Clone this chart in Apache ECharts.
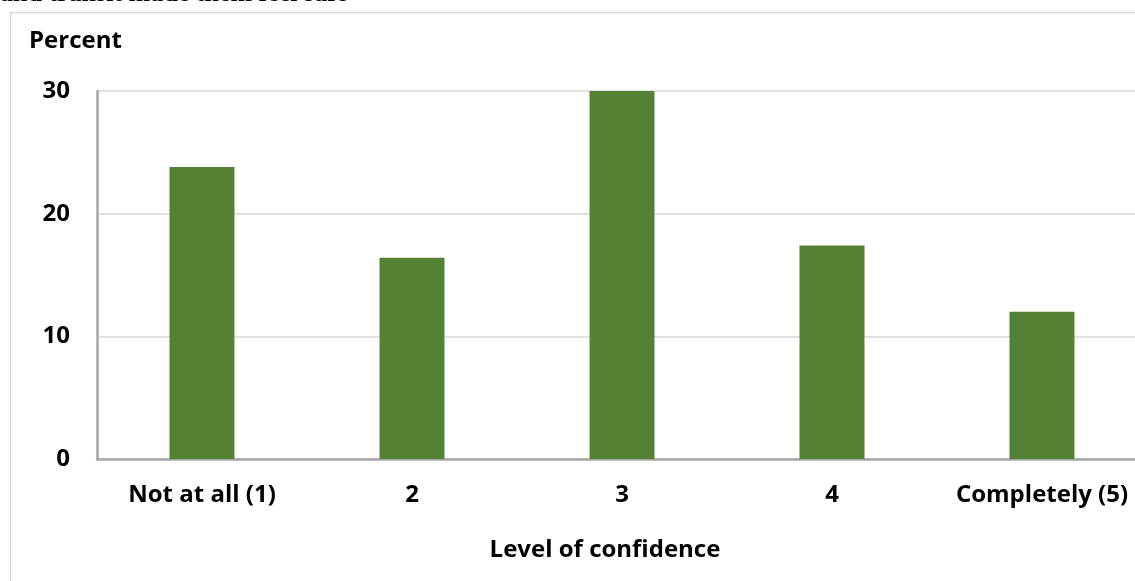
<!DOCTYPE html>
<html>
<head>
<meta charset="utf-8">
<script src="https://cdn.jsdelivr.net/npm/echarts@6/dist/echarts.min.js"></script>
<style>html,body{margin:0;padding:0;background:#fff}#c{width:1135px;height:581px}</style>
</head>
<body>
<div id="c"></div>
<script>
var categories = ['Not at all (1)', '2', '3', '4', 'Completely (5)'];
var percentValues = [23.8, 16.4, 30.0, 17.4, 12.0];
var yTicks = [0, 10, 20, 30];
var titleText = 'and transit made them feel safe';
var yAxisTitle = 'Percent';
var xAxisTitle = 'Level of confidence';

var font = '"Open Sans", "Noto Sans", sans-serif';
var chart = echarts.init(document.getElementById('c'));
chart.setOption({
  backgroundColor: '#fff',
  animation: false,
  grid: { left: 97, top: 91, width: 1050, height: 368, containLabel: false, outerBoundsMode: 'none' },
  xAxis: {
    type: 'category',
    data: categories,
    axisTick: { show: false },
    axisLine: { lineStyle: { color: '#a6a6a6', width: 2.5 } },
    axisLabel: { color: '#000', fontFamily: font, fontWeight: 'bold', fontSize: 24, margin: 24, interval: 0, hideOverlap: false }
  },
  yAxis: {
    type: 'value',
    min: yTicks[0], max: yTicks[yTicks.length - 1], interval: 10,
    axisLine: { show: true, lineStyle: { color: '#a6a6a6', width: 2.5 } },
    axisTick: { show: false },
    splitLine: { lineStyle: { color: '#d9d9d9', width: 1.5 } },
    axisLabel: { color: '#000', fontFamily: font, fontWeight: 'bold', fontSize: 24, margin: 27 }
  },
  series: [{
    type: 'bar',
    data: percentValues,
    barWidth: 65,
    itemStyle: { color: '#548235' }
  }],
  graphic: [
    { type: 'rect', shape: { x: 10.5, y: 12.5, width: 1200, height: 700 }, style: { fill: 'none', stroke: '#d9d9d9', lineWidth: 1.5 }, z: -1 },
    { type: 'text', x: 0, y: 7, style: { text: titleText, font: 'bold 26px "Liberation Serif", serif', fill: '#000', verticalAlign: 'bottom', align: 'left' } },
    { type: 'text', x: 29, y: 41, style: { text: yAxisTitle, font: 'bold 24px ' + font, fill: '#000', verticalAlign: 'middle' } },
    { type: 'text', x: 605, y: 550, style: { text: xAxisTitle, font: 'bold 24px ' + font, fill: '#000', align: 'center', verticalAlign: 'middle' } }
  ]
});
</script>
</body>
</html>
